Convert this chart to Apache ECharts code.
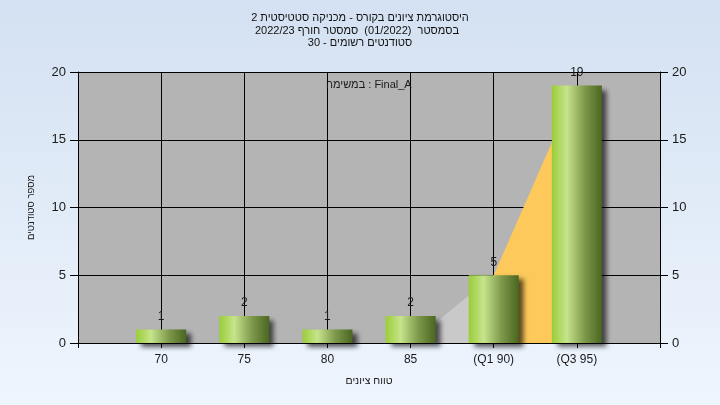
<!DOCTYPE html>
<html>
<head>
<meta charset="utf-8">
<script src="https://cdn.jsdelivr.net/npm/echarts@6/dist/echarts.min.js"></script>
<style>
html,body{margin:0;padding:0;}
#c{width:720px;height:405px;background:linear-gradient(to bottom,#d4e1f2 0%,#eef5fd 100%);}
</style>
</head>
<body>
<div id="c"></div>
<script>
const categories = ['', '70', '75', '80', '85', '(Q1 90)', '(Q3 95)', ''];
const counts = [null, 1, 2, 1, 2, 5, 19, null];
const belowQ1Area = [null, null, null, null, 0, 5, null, null];
const q1q3Area = [null, null, null, null, null, 5, 19, null];
const yMin = 0, yMax = 20, yInterval = 5;
const titleLine1 = 'היסטוגרמת ציונים בקורס - מכניקה סטטיסטית 2';
const titleLine2 = 'בסמסטר  (01/2022)  סמסטר חורף 2022/23';
const titleLine3 = 'סטודנטים רשומים - 30';
const xName = 'טווח ציונים';
const yName = 'מספר סטודנטים';
const noteText = 'במשימה : Final_A';

const FONT = "'Liberation Sans', 'DejaVu Sans', sans-serif";

const chart = echarts.init(document.getElementById('c'), null, {renderer: 'canvas'});
const axisCommon = {
  type: 'value', min: yMin, max: yMax, interval: yInterval,
  axisLine: {show: true, lineStyle: {color: '#000', width: 1}},
  axisTick: {show: true, length: 8, lineStyle: {color: '#000'}},
  axisLabel: {color: '#1a1a1a', fontSize: 13, fontFamily: FONT, margin: 12},
  splitLine: {show: false}
};
const titleStyle = {fontSize: 11, fontWeight: 'normal', color: '#111', fontFamily: FONT};
chart.setOption({
  backgroundColor: 'transparent',
  animation: false,
  title: [
    {text: titleLine1, left: 360, top: 12, textAlign: 'center', padding: 0, textStyle: titleStyle},
    {text: titleLine2, left: 357, top: 25, textAlign: 'center', padding: 0, textStyle: titleStyle},
    {text: titleLine3, left: 360, top: 37, textAlign: 'center', padding: 0, textStyle: titleStyle}
  ],
  grid: {left: 78, right: 60, top: 72, bottom: 62, show: true, backgroundColor: '#b4b4b4', borderWidth: 0},
  xAxis: {
    type: 'category', data: categories, boundaryGap: false,
    name: xName, nameLocation: 'middle', nameGap: 33,
    nameTextStyle: {color: '#1a1a1a', fontSize: 10.5, fontFamily: FONT},
    axisLine: {show: true, lineStyle: {color: '#000'}},
    axisTick: {show: true, length: 5, alignWithLabel: true, lineStyle: {color: '#000'}},
    axisLabel: {color: '#1a1a1a', fontSize: 12, fontFamily: FONT, margin: 11, interval: 0},
    splitLine: {show: true, lineStyle: {color: '#000', width: 1}}
  },
  yAxis: [
    Object.assign({}, axisCommon, {
      position: 'left',
      name: yName, nameLocation: 'middle', nameGap: 42, nameRotate: 90,
      nameTextStyle: {color: '#1a1a1a', fontSize: 9.5, fontFamily: FONT},
      splitLine: {show: true, lineStyle: {color: '#000', width: 1}}
    }),
    Object.assign({}, axisCommon, {position: 'right'})
  ],
  graphic: [{
    type: 'text', left: 326, top: 79, z: 10,
    style: {text: noteText, fill: '#1a1a1a', font: '11px ' + FONT}
  }],
  series: [
    {
      type: 'line', data: belowQ1Area, symbol: 'none', connectNulls: false,
      lineStyle: {width: 0}, areaStyle: {color: '#c9c9c9', opacity: 1}, z: 1, silent: true
    },
    {
      type: 'line', data: q1q3Area, symbol: 'none', connectNulls: false,
      lineStyle: {width: 0}, areaStyle: {color: '#fdc95a', opacity: 1}, z: 1, silent: true
    },
    {
      type: 'bar', data: counts, barWidth: 50, z: 3,
      itemStyle: {
        color: {type: 'linear', x: 0, y: 0, x2: 1, y2: 0, colorStops: [
          {offset: 0, color: '#9acd38'},
          {offset: 0.3, color: '#c6e48c'},
          {offset: 0.65, color: '#7f9a4c'},
          {offset: 1, color: '#4a6620'}
        ]},
        shadowColor: 'rgba(0,0,0,0.65)', shadowBlur: 5, shadowOffsetX: 5, shadowOffsetY: 4
      },
      label: {show: true, position: 'top', distance: 7, color: '#1a1a1a', fontSize: 12, fontFamily: FONT}
    }
  ]
});
</script>
</body>
</html>
